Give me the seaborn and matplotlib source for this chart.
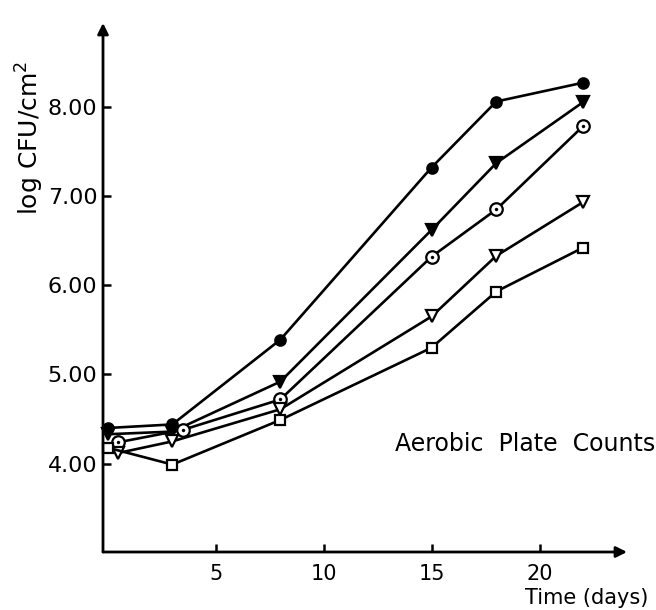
import matplotlib
matplotlib.use("Agg")
import matplotlib.pyplot as plt
import seaborn as sns
import pandas as pd

# Data
days_a = [0, 3, 8, 15, 18, 22]
days_dot = [0.5, 3.5, 8, 15, 18, 22]
days_open_tri = [0.5, 3, 8, 15, 18, 22]

filled_circle = [4.40, 4.44, 5.39, 7.32, 8.06, 8.27]
filled_triangle = [4.33, 4.36, 4.92, 6.62, 7.37, 8.05]
dot_circle = [4.24, 4.38, 4.72, 6.32, 6.85, 7.78]
open_triangle = [4.12, 4.25, 4.61, 5.65, 6.33, 6.93]
open_square = [4.18, 3.99, 4.49, 5.30, 5.93, 6.42]

x_ticks = [5, 10, 15, 20]
y_ticks = [4, 5, 6, 7, 8]
y_ticklabels = ["4.00", "5.00", "6.00", "7.00", "8.00"]

sns.set_theme(style="white")
plt.rcParams["font.family"] = ["DejaVu Sans"]

W, H = 656, 610
fig = plt.figure(figsize=(W / 100, H / 100), dpi=100)
# axes box in pixels: left 103, right 627, top 23, bottom 552
ax = fig.add_axes([103 / W, (H - 552) / H, (627 - 103) / W, (552 - 23) / H])

lw = 1.9
ms = 7.5
series = [
    (days_a, filled_circle, dict(marker="o", markerfacecolor="black")),
    (days_a, filled_triangle, dict(marker="v", markerfacecolor="black", markersize=ms + 1)),
    (days_dot, dot_circle, dict(marker="o", markerfacecolor="white", markersize=ms + 1.5)),
    (days_open_tri, open_triangle, dict(marker="v", markerfacecolor="white", markersize=ms + 1)),
    (days_a, open_square, dict(marker="s", markerfacecolor="white", markersize=ms - 0.5)),
]
for xs, ys, kw in series:
    opts = dict(color="black", linewidth=lw, markeredgecolor="black",
                markeredgewidth=1.6, markersize=ms)
    opts.update(kw)
    df = pd.DataFrame({"x": xs, "y": ys})
    sns.lineplot(data=df, x="x", y="y", ax=ax, zorder=3, clip_on=False, **opts)

# centre dots of the dotted circles
sns.scatterplot(x=days_dot, y=dot_circle, ax=ax, color="black", s=6,
                edgecolor="black", linewidth=0, zorder=4, clip_on=False)

ax.set_xlim(-0.21, 24.05)
ax.set_ylim(3.01, 8.94)

for s in ax.spines.values():
    s.set_visible(False)

# axes with arrowheads
ax.annotate("", xy=(1, 0), xytext=(0, 0), xycoords="axes fraction",
            arrowprops=dict(arrowstyle="-|>", lw=2.0, color="black",
                            mutation_scale=16, shrinkA=0, shrinkB=0))
ax.annotate("", xy=(0, 1), xytext=(0, 0), xycoords="axes fraction",
            arrowprops=dict(arrowstyle="-|>", lw=2.0, color="black",
                            mutation_scale=16, shrinkA=0, shrinkB=0))

ax.set_xticks(x_ticks)
ax.set_xticklabels([str(t) for t in x_ticks])
ax.set_yticks(y_ticks)
ax.set_yticklabels(y_ticklabels)
ax.tick_params(axis="both", which="major", direction="in", length=6, width=1.8,
               color="black", labelcolor="black")
ax.tick_params(axis="x", pad=9, bottom=True, labelsize=15)
ax.tick_params(axis="y", pad=4, left=True, labelsize=16)
ax.grid(False)
ax.set_xlabel("")
ax.set_ylabel("")

fig.text(648 / W, 1 - 598 / H, "Time (days)", ha="right", va="center",
         fontsize=15, color="black")
fig.text(30 / W, 1 - 138 / H, "log CFU/cm$^2$", ha="center", va="center",
         rotation=90, fontsize=18, color="black")
fig.text(655 / W, 1 - 444 / H, "Aerobic  Plate  Counts", ha="right",
         va="center", fontsize=17, color="black")

fig.savefig("out.png", dpi=100, facecolor="white")
